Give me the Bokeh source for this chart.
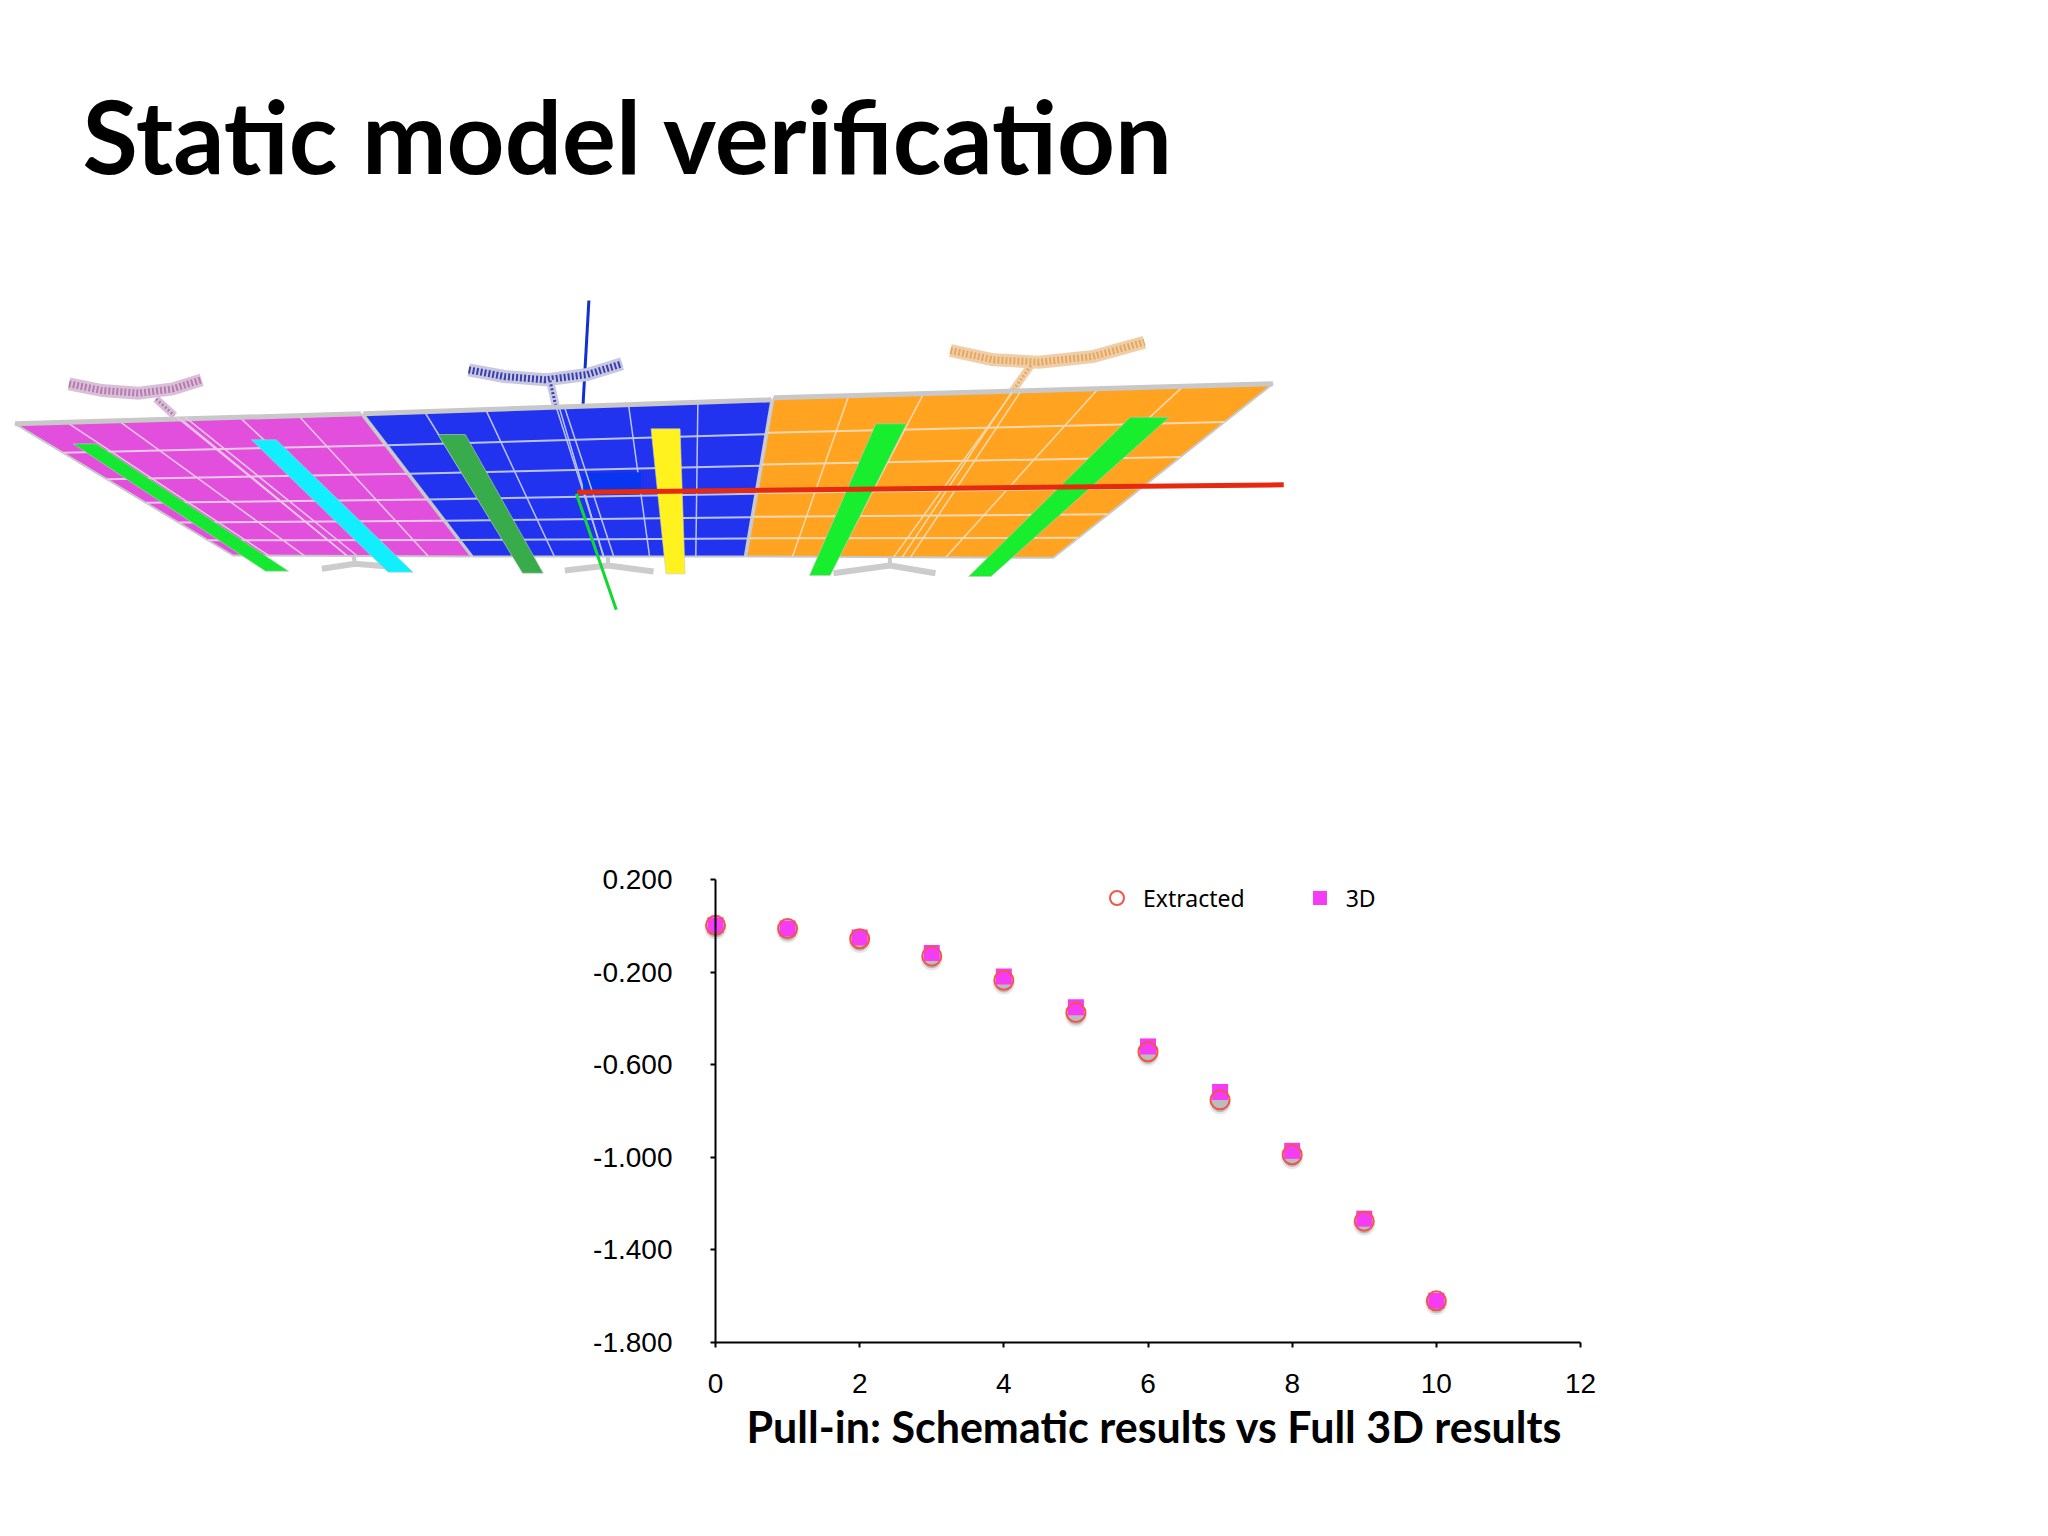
from bokeh.plotting import figure
from bokeh.layouts import column
from bokeh.models import (ColumnDataSource, FixedTicker, Label, Legend, LegendItem,
                          Range1d, NumeralTickFormatter)
from bokeh.embed import file_html
from bokeh.resources import INLINE

# ---------- chart data ----------
load = [0, 1, 2, 3, 4, 5, 6, 7, 8, 9, 10]
extracted = [0.002, -0.012, -0.056, -0.131, -0.235, -0.375, -0.544, -0.752, -0.989, -1.276, -1.62]
full_3d = [0.002, -0.012, -0.050, -0.118, -0.219, -0.352, -0.521, -0.718, -0.972, -1.265, -1.62]
x_ticks = [0, 2, 4, 6, 8, 10, 12]
y_ticks = [0.2, -0.2, -0.6, -1.0, -1.4, -1.8]
slide_title = "Static model verification"
chart_caption = "Pull-in: Schematic results vs Full 3D results"

# ---------- model illustration (crop coordinates) ----------
panel_magenta = [(20, 430), (437, 400), (570, 828), (283, 825)]
panel_blue = [(440, 400), (932, 358), (900, 828), (572, 828)]
panel_orange = [(935, 352), (1537, 310), (1272, 832), (902, 828)]
panel_colors = ["#e24fdc", "#2233f0", "#ffa321"]
mesh_u = [0.15, 0.30, 0.48, 0.65, 0.82]
mesh_v = [0.22, 0.42, 0.60, 0.75, 0.885]
mesh_colors = ["#e9c8e6", "#b9c4f6", "#f3d9ae"]

strips = [
    ([(90, 490), (118, 490), (350, 872), (322, 872)], "#15e830"),
    ([(305, 478), (335, 478), (500, 875), (470, 875)], "#11efff"),
    ([(530, 462), (563, 462), (657, 878), (632, 878)], "#38ab4a"),
    ([(787, 445), (822, 445), (828, 880), (805, 880)], "#fff21e"),
    ([(1058, 430), (1095, 430), (1003, 885), (978, 885)], "#17ee2e"),
    ([(1365, 410), (1412, 410), (1197, 888), (1170, 888)], "#17ee2e"),
]
dark_cell = [(705, 578), (775, 575), (775, 632), (705, 635)]
anchors_top = [
    ([(85, 310), (125, 330), (170, 338), (210, 325), (245, 298)], [(190, 355), (212, 405)], "#d8c0d8", "#b87ab0"),
    ([(567, 268), (610, 288), (660, 298), (710, 282), (752, 250)], [(665, 300), (672, 375)], "#c8c8e0", "#3a3fb0"),
    ([(1148, 210), (1200, 238), (1255, 245), (1320, 228), (1382, 185)], [(1245, 255), (1222, 335)], "#f0cfa8", "#e5a860"),
]
anchors_bottom = [
    ([(390, 865), (430, 850), (470, 858)], [(428, 825), (430, 850)]),
    ([(683, 870), (735, 855), (790, 873)], [(735, 830), (735, 855)]),
    ([(1007, 878), (1075, 855), (1130, 878)], [(1075, 832), (1075, 855)]),
]
long_beams = [
    ([(215, 410), (420, 825)], "#e9c8e6"),
    ([(225, 410), (432, 825)], "#e9c8e6"),
    ([(672, 375), (730, 828)], "#b9c4f6"),
    ([(682, 375), (742, 828)], "#b9c4f6"),
    ([(1222, 335), (1090, 830)], "#f3d9ae"),
    ([(1232, 335), (1100, 830)], "#f3d9ae"),
]
axis_z = ([(712, 60), (705, 370)], "#1030d0")
axis_x = ([(698, 635), (1550, 613)], "#e62a10")
axis_y = ([(697, 640), (745, 988)], "#10d830")


def page(pt):
    return pt[0] / 1.206 - 2, 280 + pt[1] / 3.0


def xs(pts):
    return [page(q)[0] for q in pts]


def ys(pts):
    return [page(q)[1] for q in pts]


def along(a, b, t):
    return (a[0] + (b[0] - a[0]) * t, a[1] + (b[1] - a[1]) * t)


# ---------- upper figure: title and model ----------
top = figure(width=2032, height=842, x_range=Range1d(0, 2032), y_range=Range1d(842, 0),
             x_axis_type=None, y_axis_type=None, toolbar_location=None, output_backend="svg",
             min_border=0, outline_line_color=None, background_fill_color="#ffffff",
             frame_align=False)
top.xgrid.visible = False
top.ygrid.visible = False

top.add_layout(Label(x=82, y=134, text=slide_title, text_font_size="101px", text_font="Lato",
                     text_font_style="bold", text_color="#000000", text_baseline="middle"))

top.line(xs(axis_z[0]), ys(axis_z[0]), line_color=axis_z[1], line_width=3)

for pts, _, fill, dots in anchors_top:
    top.line(xs(pts), ys(pts), line_color=fill, line_width=13)
    top.line(xs(pts), ys(pts), line_color=dots, line_width=7, line_dash=[2, 2])
for _, stem, fill, dots in anchors_top:
    top.line(xs(stem), ys(stem), line_color=fill, line_width=8)
    top.line(xs(stem), ys(stem), line_color=dots, line_width=3, line_dash=[2, 2])
for arm, stem in anchors_bottom:
    top.line(xs(arm), ys(arm), line_color="#cccccc", line_width=6)
    top.line(xs(stem), ys(stem), line_color="#cccccc", line_width=4)

panels = [panel_magenta, panel_blue, panel_orange]
for panel, color, mesh in zip(panels, panel_colors, mesh_colors):
    top.patch(xs(panel), ys(panel), fill_color=color, line_color="#c8c8c8", line_width=2)
    tl, tr, br, bl = panel
    for u in mesh_u:
        seg = [along(tl, tr, u), along(bl, br, u)]
        top.line(xs(seg), ys(seg), line_color=mesh, line_width=1.5)
    for v in mesh_v:
        seg = [along(tl, bl, v), along(tr, br, v)]
        top.line(xs(seg), ys(seg), line_color=mesh, line_width=2)
    top.line(xs([tl, tr]), ys([tl, tr]), line_color="#c8c8c8", line_width=5)

top.patch(xs(dark_cell), ys(dark_cell), fill_color="#0a35f0", line_alpha=0)
for seg, color in long_beams:
    top.line(xs(seg), ys(seg), line_color=color, line_width=1.5)
for strip, color in strips:
    top.patch(xs(strip), ys(strip), fill_color=color, line_color="#c8c8c8", line_width=1, line_alpha=0.6)
top.line(xs(axis_x[0]), ys(axis_x[0]), line_color=axis_x[1], line_width=5)
top.line(xs(axis_y[0]), ys(axis_y[0]), line_color=axis_y[1], line_width=3)

# ---------- lower figure: the scatter chart ----------
# pixel frame of the chart on the page; the frame is wider than the axes so that
# the axis labels and the caption stay inside it
AX_LEFT, AX_RIGHT, AX_TOP, AX_BOTTOM = 715, 1580, 879, 1342
F_LEFT, F_RIGHT, F_TOP, F_BOTTOM = 590, 1620, 860, 1460
x_scale = (AX_RIGHT - AX_LEFT) / 12.0
y_scale = (AX_BOTTOM - AX_TOP) / 2.0

shadow_drop = -0.014
src = ColumnDataSource(dict(x=load, extracted=extracted, full=full_3d,
                            shadow=[v + shadow_drop for v in extracted]))
p = figure(width=2032, height=678,
           x_range=Range1d((F_LEFT - AX_LEFT) / x_scale, (F_RIGHT - AX_LEFT) / x_scale),
           y_range=Range1d(-1.8 - (F_BOTTOM - AX_BOTTOM) / y_scale, 0.2 + (AX_TOP - F_TOP) / y_scale),
           toolbar_location=None, output_backend="svg", min_border_left=F_LEFT,
           min_border_right=2032 - F_RIGHT, min_border_top=F_TOP - 842,
           min_border_bottom=1520 - F_BOTTOM, outline_line_color=None,
           background_fill_color="#ffffff", frame_align=False)
p.grid.visible = False

for ax in (p.xaxis[0], p.yaxis[0]):
    ax.axis_line_color = "#000000"
    ax.axis_line_width = 2
    ax.major_tick_line_color = "#000000"
    ax.major_tick_line_width = 2
    ax.major_tick_in = 0
    ax.major_tick_out = 5
    ax.minor_tick_line_color = None
    ax.major_label_text_font = "Liberation Sans"
    ax.major_label_text_font_size = "28px"
    ax.major_label_text_color = "#000000"

p.xaxis[0].bounds = (0, 12)
p.xaxis[0].ticker = FixedTicker(ticks=x_ticks)
p.xaxis[0].formatter = NumeralTickFormatter(format="0")
p.xaxis[0].major_label_standoff = 26
p.xaxis[0].fixed_location = -1.8
p.yaxis[0].bounds = (-1.8, 0.2)
p.yaxis[0].ticker = FixedTicker(ticks=y_ticks)
p.yaxis[0].formatter = NumeralTickFormatter(format="0.000")
p.yaxis[0].major_label_standoff = 38
p.yaxis[0].fixed_location = 0

p.scatter("x", "shadow", source=src, marker="circle", size=22, fill_color="#888888", fill_alpha=0.2, line_alpha=0)
p.scatter("x", "shadow", source=src, marker="circle", size=18, fill_color="#888888", fill_alpha=0.45, line_alpha=0)
r_3d = p.scatter("x", "full", source=src, marker="square", size=16, fill_color="#f43cf4", line_alpha=0)
r_ex = p.scatter("x", "extracted", source=src, marker="circle", size=19, fill_alpha=0,
                 line_color="#f0564a", line_width=2)

legend = Legend(items=[LegendItem(label="Extracted", renderers=[r_ex]), LegendItem(label="3D", renderers=[r_3d])],
                orientation="horizontal", location=(1099 - F_LEFT, F_BOTTOM - 915), background_fill_alpha=0,
                border_line_color=None, padding=0, margin=0, glyph_width=35, glyph_height=35,
                label_standoff=9, spacing=57, label_text_font="Noto Sans", label_text_font_size="23px",
                label_text_color="#000000", label_text_baseline="middle")
p.add_layout(legend, "center")

p.add_layout(Label(x=6.09, y=-2.165, text=chart_caption, text_align="center", text_baseline="middle",
                   text_font="Lato", text_font_style="bold", text_font_size="43px",
                   text_color="#000000"))

layout = column(top, p, spacing=0)
open("out.html", "w").write(file_html(layout, INLINE))
